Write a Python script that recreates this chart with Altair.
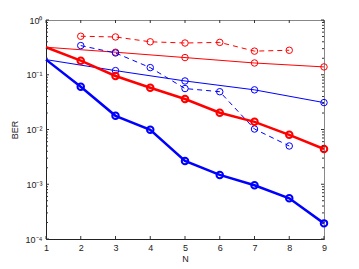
import altair as alt
import pandas as pd

# ---- data ----
N_ticks = [1, 2, 3, 4, 5, 6, 7, 8, 9]
y_major = [1e-4, 1e-3, 1e-2, 1e-1, 1.0]

red_dash_N = [2, 3, 4, 5, 6, 7, 8]
red_dash = [0.505, 0.49, 0.40, 0.38, 0.39, 0.27, 0.28]

blue_dash_N = [2, 3, 4, 5, 6, 7, 8]
blue_dash = [0.341, 0.25, 0.135, 0.056, 0.049, 0.0102, 0.005]

red_thin_N = [1, 3, 5, 7, 9]
red_thin = [0.318, 0.258, 0.206, 0.164, 0.139]

blue_thin_N = [1, 3, 5, 7, 9]
blue_thin = [0.189, 0.119, 0.077, 0.053, 0.031]

thick_N = [1, 2, 3, 4, 5, 6, 7, 8, 9]
red_thick = [0.318, 0.181, 0.095, 0.058, 0.036, 0.0202, 0.0138, 0.008, 0.0044]
blue_thick = [0.189, 0.0605, 0.0178, 0.0099, 0.00267, 0.00148, 0.00096, 0.000555, 0.000193]

y_minor = [m * 10.0 ** k for k in range(-4, 0) for m in range(2, 10)]

W, H = 278, 219
FONT = "Liberation Sans"
TXT = "#222222"

xscale = alt.Scale(domain=[1, 9], nice=False, zero=False)
yscale = alt.Scale(type="log", domain=[1e-4, 1], nice=False)

label_expr = ("datum.value > 0.5 ? '10⁰' : datum.value > 0.05 ? '10⁻¹' : "
              "datum.value > 0.005 ? '10⁻²' : datum.value > 0.0005 ? '10⁻³' : '10⁻⁴'")

X = alt.X("N:Q", scale=xscale,
          axis=alt.Axis(values=N_ticks, title="N", ticks=False, grid=False,
                        labelFont=FONT, labelFontSize=9, labelColor=TXT,
                        titleFont=FONT, titleFontSize=9, titleColor=TXT,
                        titleFontWeight="normal", labelPadding=4, titlePadding=2,
                        domainColor="#222222", labelFlush=False))
Y = alt.Y("BER:Q", scale=yscale,
          axis=alt.Axis(values=y_major, title="BER", ticks=False, grid=False,
                        labelExpr=label_expr,
                        labelFont=FONT, labelFontSize=9, labelColor=TXT,
                        titleFont=FONT, titleFontSize=9, titleColor=TXT,
                        titleFontWeight="normal", labelPadding=4, titlePadding=6,
                        domainColor="#222222", labelFlush=False))


def series(Ns, vals, color, width, msw, dash=None):
    df = pd.DataFrame({"N": Ns, "BER": vals})
    base = alt.Chart(df)
    if dash:
        line = base.mark_line(color=color, strokeWidth=width, strokeDash=dash)
    else:
        line = base.mark_line(color=color, strokeWidth=width)
    line = line.encode(x=X, y=Y)
    pts = base.transform_filter("datum.N > 1").mark_point(
        shape="circle", filled=False, color=color, size=42, strokeWidth=msw, opacity=1
    ).encode(x=X, y=Y)
    return [line, pts]


# tick marks pointing inward
xt = alt.Chart(pd.DataFrame({"N": N_ticks}))
ymaj = alt.Chart(pd.DataFrame({"BER": y_major}))
ymin = alt.Chart(pd.DataFrame({"BER": y_minor}))
tc = "#333333"
ticks = [
    xt.mark_rule(color=tc, strokeWidth=1).encode(x=X, y=alt.value(H), y2=alt.value(H - 3)),
    xt.mark_rule(color=tc, strokeWidth=1).encode(x=X, y=alt.value(0), y2=alt.value(3)),
    ymaj.mark_rule(color=tc, strokeWidth=1).encode(y=Y, x=alt.value(0), x2=alt.value(3)),
    ymaj.mark_rule(color=tc, strokeWidth=1).encode(y=Y, x=alt.value(W), x2=alt.value(W - 3)),
    ymin.mark_rule(color=tc, strokeWidth=1).encode(y=Y, x=alt.value(0), x2=alt.value(2)),
    ymin.mark_rule(color=tc, strokeWidth=1).encode(y=Y, x=alt.value(W), x2=alt.value(W - 2)),
]

layers = []
layers += series(red_dash_N, red_dash, "#ff0000", 1, 1, [5, 4])
layers += series(red_thin_N, red_thin, "#ff0000", 1, 1)
layers += series(blue_thin_N, blue_thin, "#0000ff", 1, 1)
layers += series(blue_dash_N, blue_dash, "#0000ff", 1, 1, [5, 4])
layers += series(thick_N, red_thick, "#ff0000", 2.5, 2)
layers += series(thick_N, blue_thick, "#0000ff", 2.5, 2)

chart = alt.layer(*layers, *ticks).properties(
    width=W, height=H,
    autosize=alt.AutoSizeParams(type="none"),
    padding={"left": 38, "top": 12, "right": 20, "bottom": 30},
    background="white",
).configure_view(stroke="#888888", strokeWidth=1)

chart.save("out.html", embed_options={"renderer": "svg", "actions": False})
